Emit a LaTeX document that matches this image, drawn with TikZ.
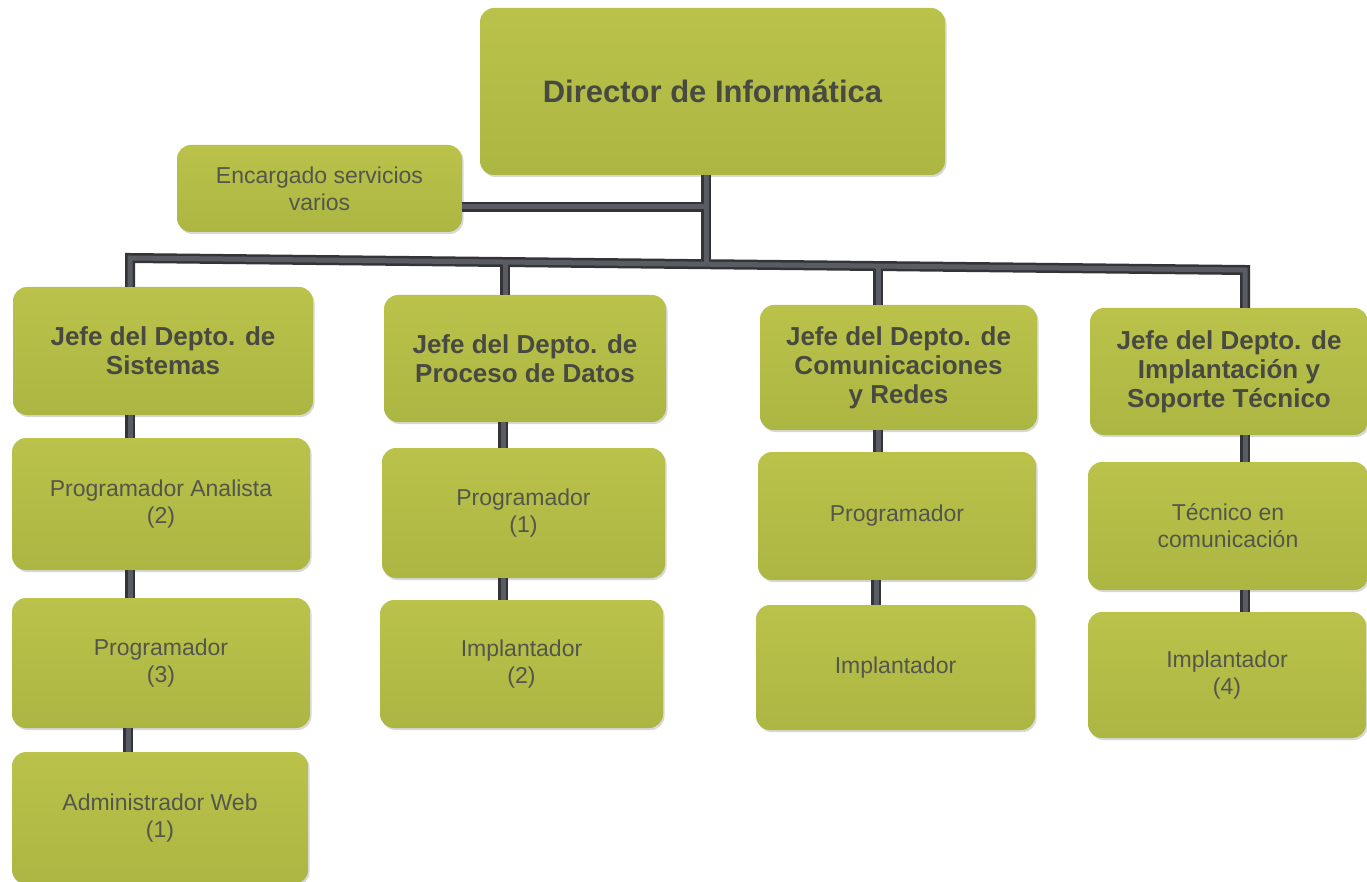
\documentclass[tikz,border=0pt]{standalone}
\usepackage{fontspec}
\setmainfont{Liberation Sans}
\usetikzlibrary{shadows}
\definecolor{boxtop}{RGB}{186,194,74}
\definecolor{boxbot}{RGB}{172,182,66}
\definecolor{txt}{RGB}{72,74,66}
\definecolor{txtl}{RGB}{84,86,76}
\definecolor{lineout}{RGB}{52,52,56}
\definecolor{linein}{RGB}{90,92,100}
\tikzset{
  orgbox/.style={rounded corners=14pt, top color=boxtop, bottom color=boxbot, draw=none,
    drop shadow={shadow xshift=1.5pt, shadow yshift=-2pt, opacity=.28, fill=black!55},
    align=center, inner sep=0pt},
  headbox/.style={orgbox, font=\fontsize{26}{29}\selectfont\bfseries, text=txt},
  plainbox/.style={orgbox, font=\fontsize{23}{27}\selectfont, text=txtl},
  conout/.style={draw=lineout, line width=10pt},
  conin/.style={draw=linein, line width=5pt},
}
\newcommand{\orgpaths}[1]{%
  \draw[#1] (dir.south -| dj) -- (dj);
  \draw[#1] (enc.east |- ej) -- (ej);
  \draw[#1] (j1.north -| bL) -- (bL) -- (bR) -- (j4.north -| bR);
  \draw[#1] (bB) -- (j2.north -| bB);
  \draw[#1] (bC) -- (j3.north -| bC);
  \draw[#1] (j1.south -| cA) -- (a1.north -| cA);
  \draw[#1] (a1.south -| cA) -- (a2.north -| cA);
  \draw[#1] (a2.south -| cA2) -- (a3.north -| cA2);
  \draw[#1] (j2.south -| cB) -- (b1.north -| cB);
  \draw[#1] (b1.south -| cB) -- (b2.north -| cB);
  \draw[#1] (j3.south -| cC) -- (c1.north -| cC);
  \draw[#1] (c1.south -| cC2) -- (c2.north -| cC2);
  \draw[#1] (j4.south -| cD) -- (d1.north -| cD);
  \draw[#1] (d1.south -| cD) -- (d2.north -| cD);
}
\begin{document}
\begin{tikzpicture}[x=1pt,y=-1pt]
\fill[white] (0,0) rectangle (1367,882);
\useasboundingbox (0,0) rectangle (1367,882);
% boxes
\node[headbox, minimum width=465pt, minimum height=167pt, font=\fontsize{31}{34}\selectfont\bfseries] (dir) at (712.5,91.5) {Director de Informática};
\node[plainbox, minimum width=285pt, minimum height=87pt] (enc) at (319.5,188.5) {Encargado servicios\\varios};
\node[headbox, minimum width=300pt, minimum height=128pt] (j1) at (163,351) {Jefe del Depto. de\\Sistemas};
\node[plainbox, minimum width=298pt, minimum height=132pt] (a1) at (161,504) {Programador Analista\\(2)};
\node[plainbox, minimum width=298pt, minimum height=130pt] (a2) at (161,663) {Programador\\(3)};
\node[plainbox, minimum width=296pt, minimum height=132pt] (a3) at (160,818) {Administrador Web\\(1)};
\node[headbox, minimum width=282pt, minimum height=127pt] (j2) at (525,358.5) {Jefe del Depto. de\\Proceso de Datos};
\node[plainbox, minimum width=283pt, minimum height=130pt] (b1) at (523.5,513) {Programador\\(1)};
\node[plainbox, minimum width=283pt, minimum height=128pt] (b2) at (521.5,664) {Implantador\\(2)};
\node[headbox, minimum width=277pt, minimum height=125pt] (j3) at (898.5,367.5) {Jefe del Depto. de\\Comunicaciones\\y Redes};
\node[plainbox, minimum width=278pt, minimum height=128pt] (c1) at (897,516) {Programador};
\node[plainbox, minimum width=279pt, minimum height=125pt] (c2) at (895.5,667.5) {Implantador};
\node[headbox, minimum width=278pt, minimum height=127pt] (j4) at (1229,371.5) {Jefe del Depto. de\\Implantación y\\Soporte Técnico};
\node[plainbox, minimum width=280pt, minimum height=128pt] (d1) at (1228,526) {Técnico en\\comunicación};
\node[plainbox, minimum width=278pt, minimum height=126pt] (d2) at (1227,675) {Implantador\\(4)};
% connector coordinates
\coordinate (bL) at (130,258);
\coordinate (bR) at (1245,270);
\coordinate (bB) at (505,262);
\coordinate (bC) at (878,266);
\coordinate (dj) at (706,264.2);
\coordinate (ej) at (706,207);
\coordinate (cA) at (130,0);
\coordinate (cA2) at (128,0);
\coordinate (cB) at (503,0);
\coordinate (cC) at (878,0);
\coordinate (cC2) at (876,0);
\coordinate (cD) at (1245,0);
\orgpaths{conout}
\orgpaths{conin}
\end{tikzpicture}
\end{document}
